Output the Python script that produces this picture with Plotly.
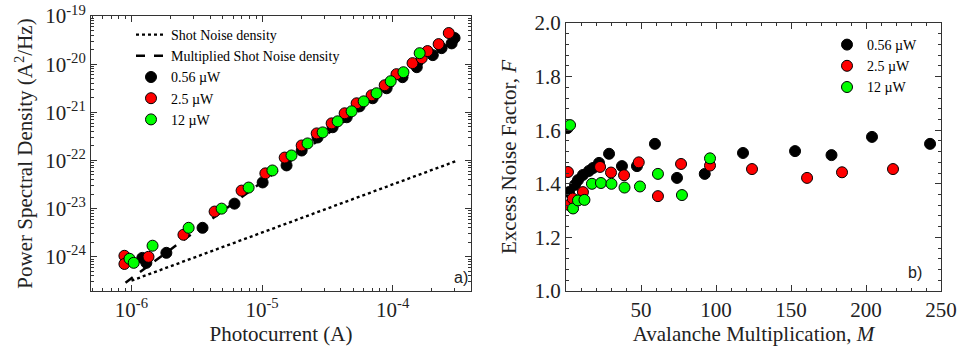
import plotly.graph_objects as go

# ---------------- Panel a) data ----------------
# Photocurrent (A) and Power Spectral Density (A^2/Hz)
black_I = [1.21e-6, 1.30e-6, 1.85e-6, 3.50e-6, 6.15e-6, 1.01e-5, 1.54e-5, 2.01e-5, 2.66e-5,
           3.47e-5, 4.45e-5, 5.58e-5, 7.03e-5, 8.99e-5, 1.19e-4, 1.53e-4, 2.03e-4, 2.37e-4,
           2.83e-4, 2.98e-4]
black_S = [9.5e-25, 7.5e-25, 1.21e-24, 4.0e-24, 1.27e-23, 3.5e-23, 7.9e-23, 1.61e-22, 3.0e-22,
           4.9e-22, 7.9e-22, 1.33e-21, 1.96e-21, 3.16e-21, 5.36e-21, 8.65e-21, 1.54e-20, 2.15e-20,
           2.7e-20, 3.5e-20]

red_I = [8.83e-7, 8.83e-7, 1.35e-6, 2.50e-6, 4.33e-6, 6.97e-6, 1.06e-5, 1.49e-5, 2.01e-5,
         2.62e-5, 3.41e-5, 4.29e-5, 5.30e-5, 6.90e-5, 8.69e-5, 1.07e-4, 1.42e-4, 1.67e-4,
         1.85e-4, 2.25e-4, 2.69e-4]
red_S = [1.05e-24, 7.1e-25, 1.0e-24, 2.87e-24, 8.7e-24, 2.37e-23, 5.4e-23, 1.15e-22, 2.05e-22,
         3.65e-22, 5.9e-22, 9.55e-22, 1.54e-21, 2.26e-21, 3.65e-21, 6.2e-21, 1.05e-20, 1.33e-20,
         1.87e-20, 2.61e-20, 4.43e-20]

green_I = [9.66e-7, 1.04e-6, 1.45e-6, 2.74e-6, 4.90e-6, 7.89e-6, 1.20e-5, 1.68e-5, 2.23e-5,
           2.91e-5, 3.79e-5, 4.85e-5, 6.0e-5, 7.53e-5, 9.66e-5, 1.21e-4, 1.61e-4]
green_S = [9.1e-25, 7.5e-25, 1.70e-24, 4.0e-24, 1.0e-23, 2.74e-23, 6.2e-23, 1.27e-22, 2.26e-22,
           3.83e-22, 6.5e-22, 1.05e-21, 1.69e-21, 2.49e-21, 4.43e-21, 6.8e-21, 1.69e-20]

shot_I = [1.0e-6, 3.15e-4]
shot_S = [3.2e-25, 1.0e-22]
mult_I = [0.9e-6, 3.0e-4]
mult_S = [2.9e-25, 3.2e-20]

# ---------------- Panel b) data ----------------
black_M = [1.0, 2.0, 6.0, 8.0, 11.3, 15.3, 18.0, 22.0, 28.7, 37.3, 47.3, 59.3, 74.0, 92.5,
           118.0, 152.7, 177.0, 204.0, 242.7]
black_F = [1.608, 1.369, 1.396, 1.414, 1.433, 1.448, 1.459, 1.478, 1.512, 1.466, 1.466, 1.549,
           1.422, 1.437, 1.515, 1.522, 1.507, 1.575, 1.549]

red_M = [1.3, 2.0, 4.5, 11.3, 22.7, 30.0, 38.7, 48.5, 61.3, 76.7, 96.0, 124.0, 160.7, 184.0, 218.0]
red_F = [1.444, 1.321, 1.345, 1.369, 1.463, 1.442, 1.432, 1.480, 1.354, 1.474, 1.468, 1.455,
         1.422, 1.443, 1.455]

green_M = [2.7, 4.7, 8.0, 12.3, 17.3, 23.3, 30.3, 39.0, 49.3, 61.3, 77.3, 96.0]
green_F = [1.619, 1.308, 1.338, 1.340, 1.400, 1.403, 1.400, 1.386, 1.390, 1.437, 1.358, 1.495]

series_names = ["0.56 \u00b5W", "2.5 \u00b5W", "12 \u00b5W"]
series_colors = ["#000000", "#ff0000", "#00ff00"]

# tick labels
left_y_tickvals = [1e-24, 1e-23, 1e-22, 1e-21, 1e-20, 1e-19]
left_y_ticktext = ["10<sup>-24</sup>", "10<sup>-23</sup>", "10<sup>-22</sup>",
                   "10<sup>-21</sup>", "10<sup>-20</sup>", "10<sup>-19</sup>"]
left_x_tickvals = [1e-6, 1e-5, 1e-4]
left_x_ticktext = ["10<sup>-6</sup>", "10<sup>-5</sup>", "10<sup>-4</sup>"]
right_x_tickvals = [50, 100, 150, 200, 250]
right_y_tickvals = [1.0, 1.2, 1.4, 1.6, 1.8, 2.0]
right_y_ticktext = ["1.0", "1.2", "1.4", "1.6", "1.8", "2.0"]

SERIF = "Liberation Serif, Times New Roman, serif"
W, H = 959, 354
TXT = "#222222"


def px_x(p):
    return p / W


def px_y(p):
    return 1 - p / H


fig = go.Figure()

# lines (panel a)
fig.add_trace(go.Scatter(x=shot_I, y=shot_S, mode="lines", name="Shot Noise density",
                         line=dict(color="black", width=2.4, dash="dot"),
                         xaxis="x", yaxis="y", legend="legend"))
fig.add_trace(go.Scatter(x=mult_I, y=mult_S, mode="lines", name="Multiplied Shot Noise density",
                         line=dict(color="black", width=2.5, dash="dash"),
                         xaxis="x", yaxis="y", legend="legend"))

left_data = [(black_I, black_S), (red_I, red_S), (green_I, green_S)]
right_data = [(black_M, black_F), (red_M, red_F), (green_M, green_F)]

for (xs, ys), name, col in zip(left_data, series_names, series_colors):
    fig.add_trace(go.Scatter(x=xs, y=ys, mode="markers", name=name,
                             marker=dict(color=col, size=11, line=dict(color="black", width=1)),
                             xaxis="x", yaxis="y", legend="legend"))
for (xs, ys), name, col in zip(right_data, series_names, series_colors):
    fig.add_trace(go.Scatter(x=xs, y=ys, mode="markers", name=name,
                             marker=dict(color=col, size=11, line=dict(color="black", width=1)),
                             xaxis="x2", yaxis="y2", legend="legend2"))

# minor ticks for log axes
minor_x = [k * 10.0 ** e for e in range(-7, -3) for k in range(2, 10)]
minor_y = [k * 10.0 ** e for e in range(-25, -19) for k in range(2, 10)]

axis_common = dict(showline=True, linecolor="#333333", linewidth=1, mirror="ticks",
                   ticks="inside", ticklen=6, tickcolor="#333333", showgrid=False, zeroline=False,
                   automargin=True, ticklabeloverflow="allow",
                   tickfont=dict(family=SERIF, size=21, color=TXT))
title_font = dict(family=SERIF, size=21, color=TXT)

fig.update_layout(
    width=W, height=H,
    margin=dict(l=0, r=0, t=0, b=0, autoexpand=False),
    paper_bgcolor="white", plot_bgcolor="white",
    font=dict(family=SERIF, color="black"),
    xaxis=dict(type="log", domain=[px_x(91), px_x(471)], range=[-6.31, -3.40],
               tickmode="array", tickvals=left_x_tickvals, ticktext=left_x_ticktext,
               minor=dict(tickmode="array", tickvals=minor_x, ticks="inside", ticklen=3,
                          tickcolor="#333333"),
               title=dict(text="Photocurrent (A)", font=title_font, standoff=4),
               anchor="y", **axis_common),
    yaxis=dict(type="log", domain=[px_y(291), px_y(16)], range=[-24.71, -19.0],
               tickmode="array", tickvals=left_y_tickvals, ticktext=left_y_ticktext,
               minor=dict(tickmode="array", tickvals=minor_y, ticks="inside", ticklen=3,
                          tickcolor="#333333"),
               title=dict(text="Power Spectral Density (A<sup>2</sup>/Hz)", font=title_font,
                          standoff=6),
               anchor="x", **axis_common),
    xaxis2=dict(domain=[px_x(566), px_x(941)], range=[0, 250],
                tickmode="array", tickvals=right_x_tickvals,
                minor=dict(dtick=10, ticks="inside", ticklen=3, tickcolor="#333333"),
                title=dict(text="Avalanche Multiplication, <i>M</i>", font=title_font, standoff=4),
                anchor="y2", **axis_common),
    yaxis2=dict(domain=[px_y(291), px_y(23)], range=[1.0, 2.0],
                tickmode="array", tickvals=right_y_tickvals, ticktext=right_y_ticktext,
                minor=dict(dtick=0.04, ticks="inside", ticklen=3, tickcolor="#333333"),
                title=dict(text="Excess Noise Factor, <i>F</i>", font=title_font, standoff=12),
                anchor="x2", **axis_common),
    legend=dict(x=px_x(131), y=px_y(19), xanchor="left", yanchor="top",
                font=dict(family=SERIF, size=14, color="black"), bgcolor="rgba(0,0,0,0)",
                tracegroupgap=0, itemwidth=30),
    legend2=dict(x=px_x(827), y=px_y(29), xanchor="left", yanchor="top",
                 font=dict(family=SERIF, size=14, color="black"), bgcolor="rgba(0,0,0,0)",
                 tracegroupgap=0),
    showlegend=True,
    annotations=[
        dict(text="a)", x=px_x(470), y=px_y(277), xref="paper", yref="paper",
             xanchor="right", yanchor="middle", showarrow=False,
             font=dict(family="Liberation Sans", size=16, color=TXT)),
        dict(text="b)", x=px_x(924), y=px_y(272), xref="paper", yref="paper",
             xanchor="right", yanchor="middle", showarrow=False,
             font=dict(family="Liberation Sans", size=16, color=TXT)),
    ],
)

# remove the default 8px page margin so the 959x354 figure fills the window exactly
fig.write_html("out.html", config={"displayModeBar": False},
               post_script="document.body.style.margin='0';")
